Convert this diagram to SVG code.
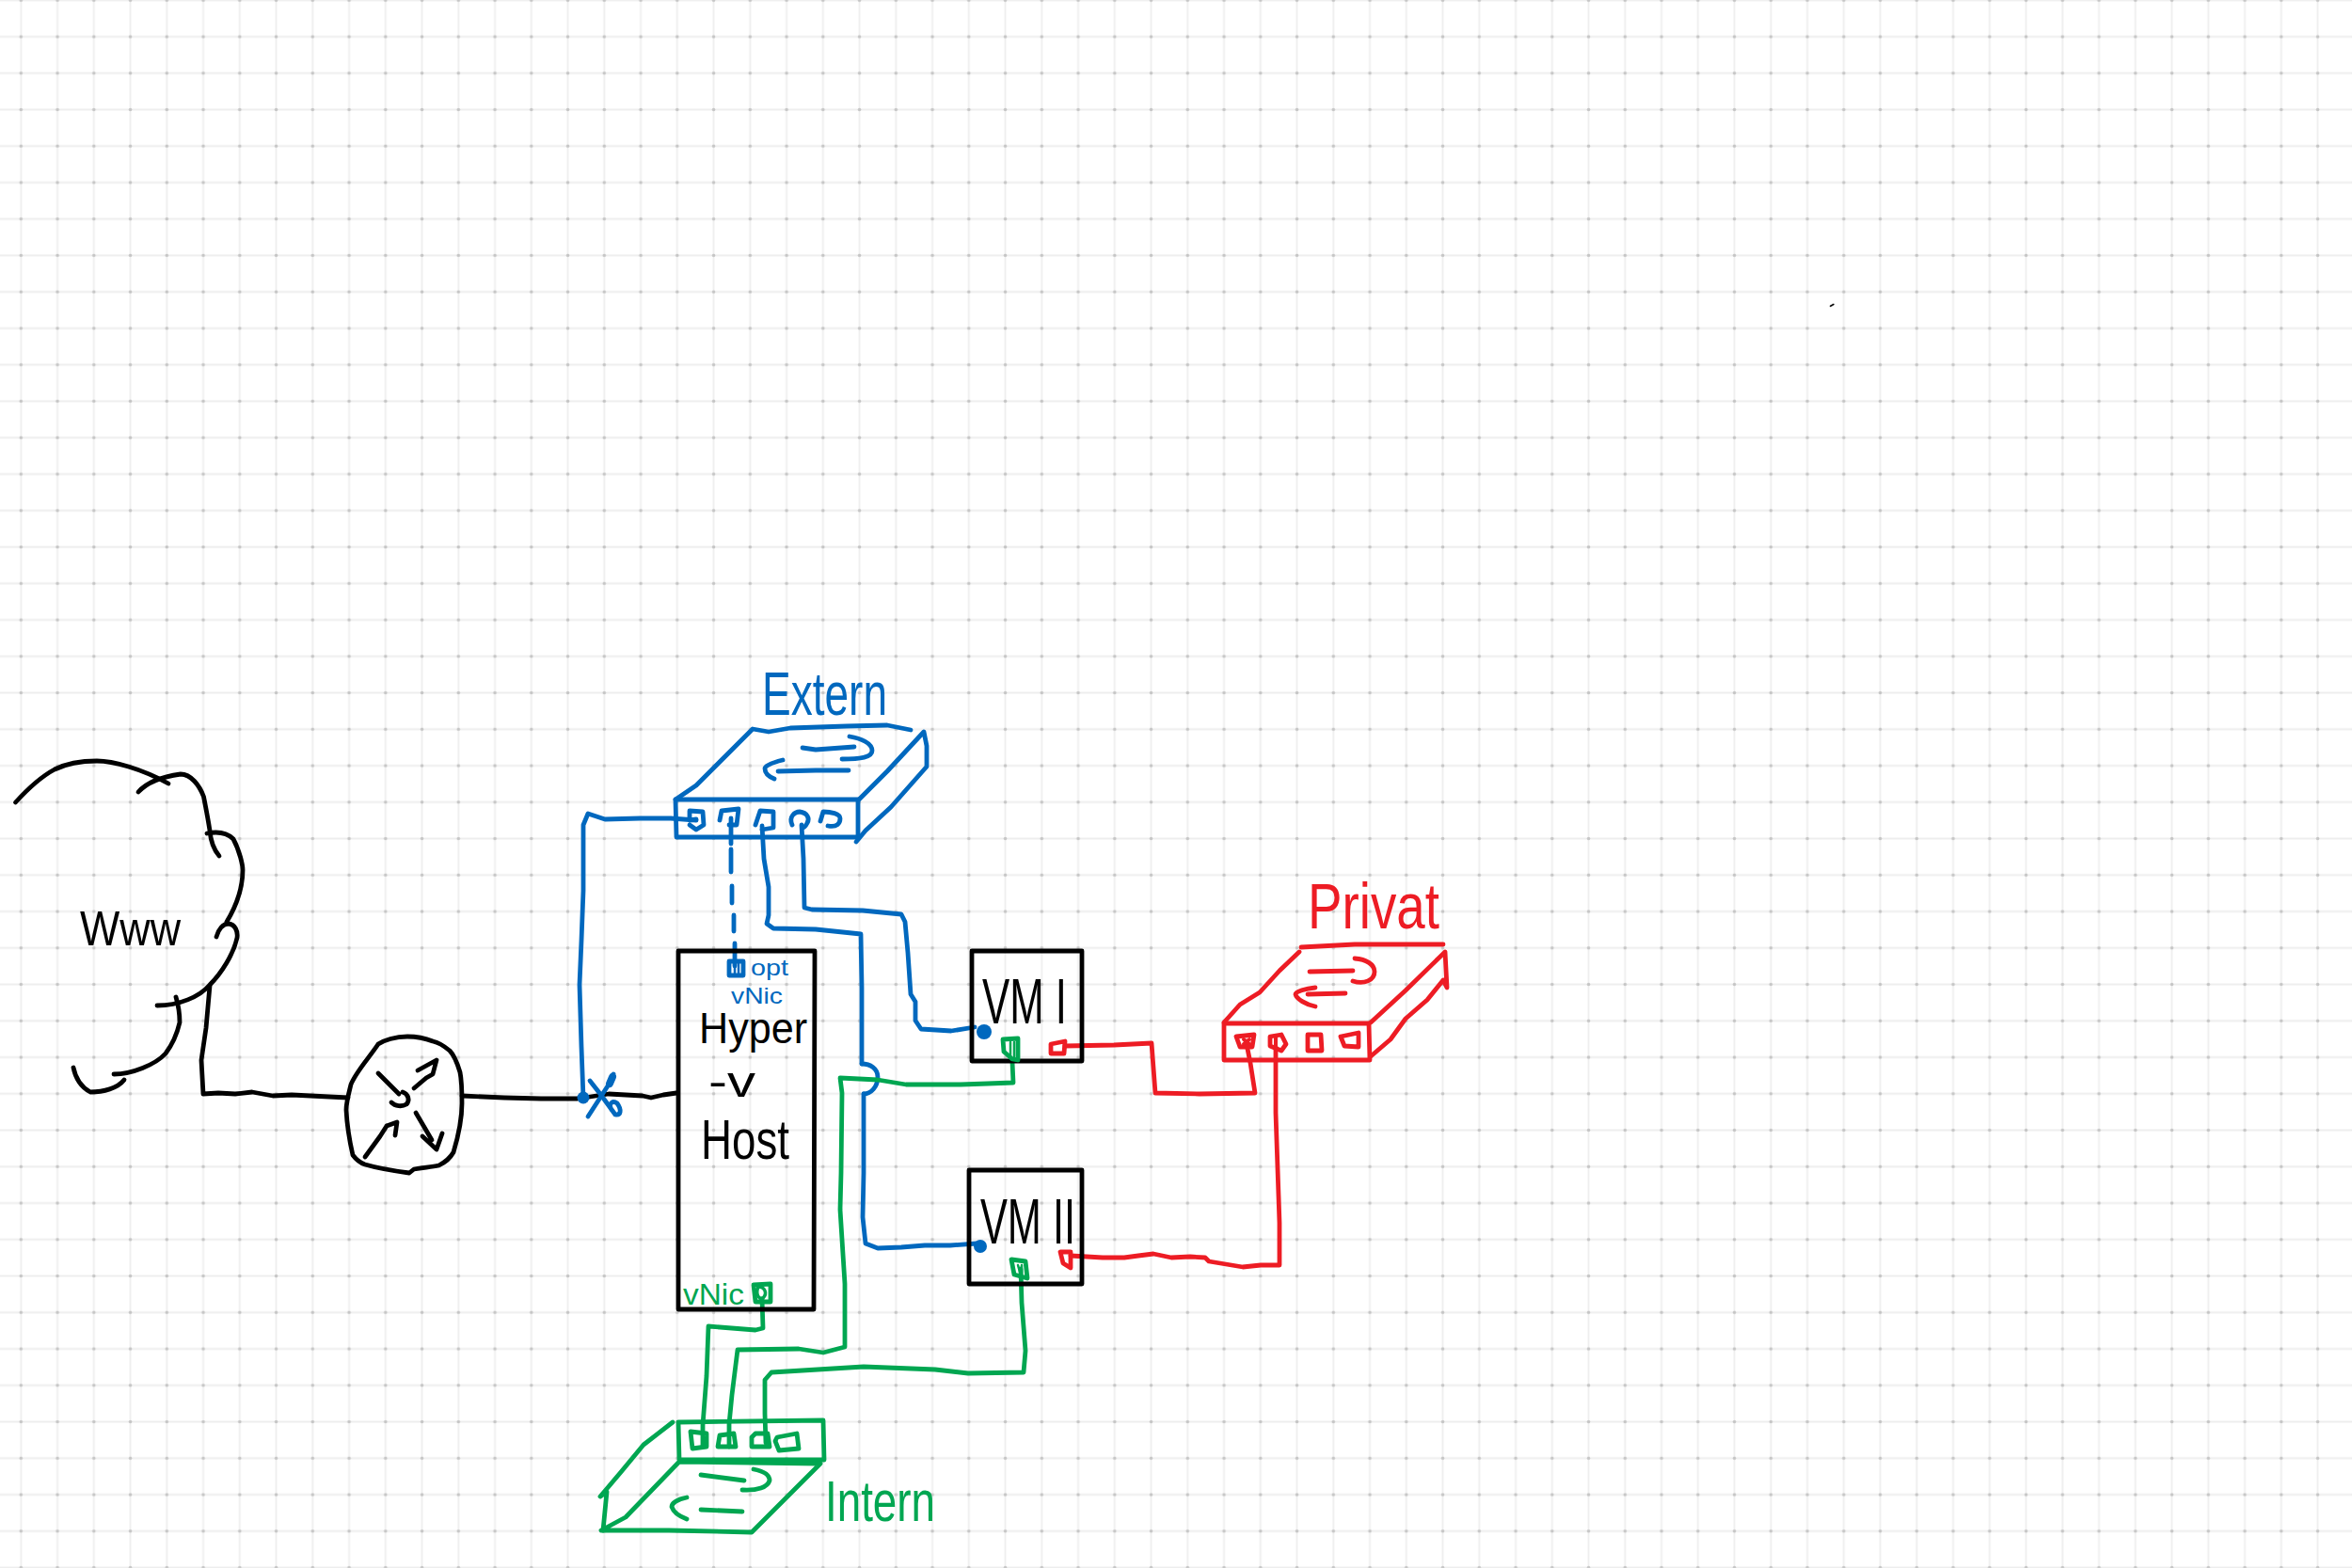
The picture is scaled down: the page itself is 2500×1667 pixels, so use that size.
<svg xmlns="http://www.w3.org/2000/svg" width="2500" height="1667" viewBox="0 0 2500 1667">
<style>
path,polyline,polygon{fill:none;stroke-linecap:round;stroke-linejoin:round;stroke-width:4.8}
.k{stroke:#000}.b{stroke:#0068BE}.r{stroke:#ED1C24}.g{stroke:#00A651}
text{font-family:"Liberation Sans",Arial,sans-serif;font-size:64px}
.tk{fill:#000}.tb{fill:#0068BE}.tr{fill:#ED1C24}.tg{fill:#00A651}
.db{fill:#0068BE}
</style>
<defs>
<pattern id="grid" patternUnits="userSpaceOnUse" x="2.925" y="-19.075" width="38.75" height="38.75">
<path d="M19.375 0V38.75M0 19.375H38.75" style="stroke:#eeeeee;stroke-width:1.8;stroke-linecap:butt"/>
<circle cx="19.375" cy="19.375" r="1.8" fill="#c6c6c6"/>
</pattern>
</defs>
<rect width="2500" height="1667" fill="#fff"/>
<rect width="2500" height="1667" fill="url(#grid)"/>
<path class="k" d="M1945.5 325.5L1949 323.5" style="stroke-width:1.5"/>

<g id="connectors">
<polyline class="k" points="223,1048 219,1093 214,1127 216,1163 232,1162 250,1163 268,1161 290,1165 310,1164 330,1165 370,1167"/>
<polyline class="k" points="491,1165 536,1167 575,1168 614,1168 647,1163 683,1165 692,1167 705,1164 719,1162"/>
<polyline class="b" points="620,1167 618,1113 616,1047 618,1000 620,947 620,877 625,865 643,871 680,870 713,870 740,872"/>
<path class="b" d="M777 870V897M777 903L777 927M778 942L778 960M780 973L780 990M781 1003L781 1027"/>
<polyline class="b" points="810,878 812,913 817,943 817,973 815,982 822,987 867,988 915,993 916,1050 916,1131"/>
<path class="b" d="M916 1131C925 1131 933 1136 933 1145C933 1155 926 1163 918 1163"/>
<polyline class="b" points="918,1163 918,1247 917,1294 920,1322 933,1327 958,1326 983,1324 1010,1324 1038,1322"/>
<polyline class="b" points="852,877 854,913 855,965 863,967 917,968 958,972 962,980 965,1013 968,1057 973,1065 973,1085 979,1094 1011,1096 1036,1092"/>
<polyline class="g" points="1076,1129 1077,1151 1050,1152 1021,1153 963,1153 933,1148 893,1146 895,1162 894,1247 893,1286 898,1365 898,1432 875,1438 849,1434 784,1435 778,1483 775,1514 775,1538"/>
<polyline class="g" points="810,1381 811,1412 803,1414 753,1410 751,1463 747,1515 747,1538"/>
<polyline class="g" points="1085,1349 1086,1385 1090,1436 1088,1459 1029,1460 994,1456 918,1453 820,1459 813,1467 813,1503 814,1534"/>
<polyline class="r" points="1132,1112 1184,1111 1224,1109 1228,1162 1275,1163 1334,1162 1329,1130 1325,1110"/>
<polyline class="r" points="1138,1335 1172,1337 1195,1337 1210,1335 1226,1333 1245,1337 1265,1336 1281,1337 1285,1341 1321,1347 1340,1345 1360,1345 1360,1300 1356,1183 1356,1113"/>
</g>

<g id="cloud">
<path class="k" d="M16.5 853C32 836 45 825 58 818C72 811 88 809 103 809C120 809 150 817 179 833"/>
<path class="k" d="M147 842C155 833 170 826 192 823C203 823 212 835 216.5 847C219 860 221 870 223 883C224 895 227 903 233 910"/>
<path class="k" d="M220 886C230 884 240 884 248 892C255 905 258 920 258 925C258 945 250 965 241 980"/>
<path class="k" d="M230 996C232 988 237 982 243 982C250 983 253 990 252 997C248 1015 235 1035 223 1047C212 1060 190 1069 167 1069"/>
<path class="k" d="M187 1060C190 1070 191 1080 191 1087C188 1100 182 1112 176 1120C165 1132 140 1142 121 1142"/>
<path class="k" d="M78 1135C80 1145 85 1155 96 1161C110 1161 125 1157 132 1148"/>
<text class="tk" x="85" y="1005" textLength="107" lengthAdjust="spacingAndGlyphs" style="font-size:52px">Www</text>
</g>

<g id="router">
<path class="k" d="M433 1102C420 1102 408 1106 402 1110C392 1125 378 1140 373 1153C370 1165 368 1172 368 1180C369 1200 372 1215 375 1228C378 1232 382 1236 388 1238C405 1243 420 1245 435 1247L440 1243C450 1241 458 1241 466.5 1239C474 1235 478 1232 482 1225C488 1205 491 1190 491 1173C491 1160 491 1150 489 1140C486 1130 483 1122 478 1117C472 1112 465 1108 460 1107C450 1103 440 1102 433 1102Z"/>
<path class="k" d="M402 1141L424 1163M428 1161C434 1163 436 1170 432 1174C427 1177 420 1176 416 1172"/>
<path class="k" d="M440 1157L453 1146L460 1142L464 1127L444 1138"/>
<path class="k" d="M442 1183L459 1212M449 1208L464 1222L470 1205"/>
<path class="k" d="M388 1230L404 1208L411 1197M411 1197L422 1193L420 1207"/>
</g>

<g id="nat-switch">
<circle class="db" cx="620" cy="1167" r="6.5"/>
<path class="b" d="M627 1149L638 1163L654 1185C660 1186 661 1180 656 1173C652 1170 646 1172 650 1180"/>
<path class="b" d="M652 1142L647 1153L625 1187"/>
<path class="b" d="M651 1145L648 1152" style="stroke-width:8"/>
</g>

<g id="host">
<polygon class="k" points="721,1011 866,1011 865,1392 721,1392"/>
<text class="tk" x="743" y="1109" textLength="115" lengthAdjust="spacingAndGlyphs" style="font-size:46px">Hyper</text>
<text class="tk" x="753" y="1166" textLength="50" lengthAdjust="spacingAndGlyphs" style="font-size:46px">-v</text>
<text class="tk" x="745" y="1232" textLength="94" lengthAdjust="spacingAndGlyphs" style="font-size:60px">Host</text>
<polygon class="b" points="775,1022 790,1022 790,1037 775,1037"/>
<path class="b" d="M781 1024V1035M785 1024V1035" style="stroke-width:2.5"/>
<text class="tb" x="798" y="1037" textLength="40" lengthAdjust="spacingAndGlyphs" style="font-size:24px">opt</text>
<text class="tb" x="777" y="1067" textLength="55" lengthAdjust="spacingAndGlyphs" style="font-size:24px">vNic</text>
<text class="tg" x="726" y="1387" textLength="65" lengthAdjust="spacingAndGlyphs" style="font-size:32px">vNic</text>
<polygon class="g" points="801,1366 819,1365 819,1384 803,1384"/>
<path class="g" d="M806 1368C803 1375 806 1382 811 1380C816 1375 813 1368 806 1368" style="stroke-width:3.5"/>
</g>

<g id="vm1">
<polygon class="k" points="1033,1011 1150,1011 1150,1128 1033,1128"/>
<text class="tk" x="1044" y="1088" textLength="90" lengthAdjust="spacingAndGlyphs" style="font-size:68px">VM I</text>
<circle class="db" cx="1046" cy="1097" r="8"/>
<polygon class="g" points="1066,1105 1082,1104 1082,1127 1076,1126 1067,1118"/>
<path class="g" d="M1074 1108V1125M1078 1108V1125" style="stroke-width:2.5"/>
<polygon class="r" points="1117,1110 1132,1107 1131,1120 1117,1120"/>
</g>

<g id="vm2">
<polygon class="k" points="1030,1244 1150,1244 1150,1365 1030,1365"/>
<text class="tk" x="1042" y="1322" textLength="101" lengthAdjust="spacingAndGlyphs" style="font-size:68px">VM II</text>
<circle class="db" cx="1042" cy="1325" r="7"/>
<polygon class="g" points="1075,1339 1090,1341 1092,1359 1078,1355"/>
<path class="g" d="M1082 1345L1085 1356M1086 1345V1356" style="stroke-width:2.5"/>
<polygon class="r" points="1127,1331 1138,1331 1138,1348 1130,1343"/>
</g>

<g id="extern">
<text class="tb" x="810" y="760" textLength="133" lengthAdjust="spacingAndGlyphs" style="font-size:64px">Extern</text>
<polygon class="b" points="718,850 912,850 912,890 719,890"/>
<polyline class="b" points="718,850 740,835 757,818 800,775 817,778 840,774 900,772 943,771 968,776"/>
<polyline class="b" points="913,850 943,820 982,778 985,793 985,815 947,858 920,883 910,895"/>
<path class="b" d="M853 795L867 797L908 794M903 783C915 785 927 790 927 798C927 805 915 807 895 807"/>
<path class="b" d="M902 819L867 819L827 820M832 808C820 811 813 814 813 817C813 822 818 826 823 828"/>
<polyline class="b" points="740,871 733,872 733,862 747,863 748,877 740,882 733,877"/>
<polyline class="b" points="765,872 767,862 785,860 783,877 775,877"/>
<polyline class="b" points="803,877 808,862 822,863 822,880 810,882"/>
<path class="b" d="M842 877C838 868 845 863 850 863C858 864 861 870 858 875C856 879 854 880 853 880"/>
<path class="b" d="M872 873L875 863C883 863 893 865 893 870C893 875 890 880 880 878"/>
</g>

<g id="privat">
<text class="tr" x="1390" y="987" textLength="140" lengthAdjust="spacingAndGlyphs" style="font-size:68px">Privat</text>
<polygon class="r" points="1301,1088 1455,1088 1456,1127 1301,1127"/>
<polyline class="r" points="1301,1087 1318,1068 1339,1055 1360,1032 1381,1012"/>
<polyline class="r" points="1383,1007 1440,1004 1534,1004"/>
<polyline class="r" points="1457,1087 1494,1053 1536,1012 1538,1050 1534,1042 1517,1063 1494,1083 1478,1105 1457,1123"/>
<path class="r" d="M1392 1033L1438 1032M1440 1019C1452 1020 1461 1025 1461 1033C1461 1042 1450 1047 1438 1043"/>
<path class="r" d="M1430 1056L1390 1057M1398 1050C1388 1051 1377 1054 1377 1057C1378 1062 1388 1068 1398 1070"/>
<polygon class="r" points="1314,1102 1333,1100 1331,1113 1318,1113"/>
<path class="r" d="M1322 1105L1328 1110M1328 1105L1322 1110" style="stroke-width:4"/>
<polygon class="r" points="1350,1102 1362,1100 1367,1110 1362,1117 1350,1112"/>
<path class="r" d="M1356 1103V1112" style="stroke-width:4"/>
<polygon class="r" points="1390,1100 1404,1100 1405,1117 1390,1117"/>
<polygon class="r" points="1425,1102 1444,1098 1444,1113 1429,1112"/>
</g>

<g id="intern">
<text class="tg" x="877" y="1617" textLength="117" lengthAdjust="spacingAndGlyphs" style="font-size:62px">Intern</text>
<polygon class="g" points="721,1512 875,1510 876,1552 722,1552"/>
<polyline class="g" points="715,1512 684,1536 660,1565 638,1591 645,1586 641,1627"/>
<polygon class="g" points="722,1554 665,1613 639,1627 711,1627 799,1629 872,1556"/>
<path class="g" d="M745 1568L791 1574M801 1562C812 1564 818 1568 818 1574C816 1581 805 1585 789 1584"/>
<path class="g" d="M789 1607L745 1605M730 1592C720 1594 714 1598 714 1602C716 1608 722 1612 730 1615"/>
<polygon class="g" points="734,1522 751,1524 751,1538 736,1540"/>
<polygon class="g" points="765,1526 780,1524 782,1538 763,1538"/>
<polygon class="g" points="799,1528 803,1524 816,1524 818,1538 799,1538"/>
<polygon class="g" points="824,1532 826,1528 847,1524 849,1540 828,1542"/>
</g>
</svg>
